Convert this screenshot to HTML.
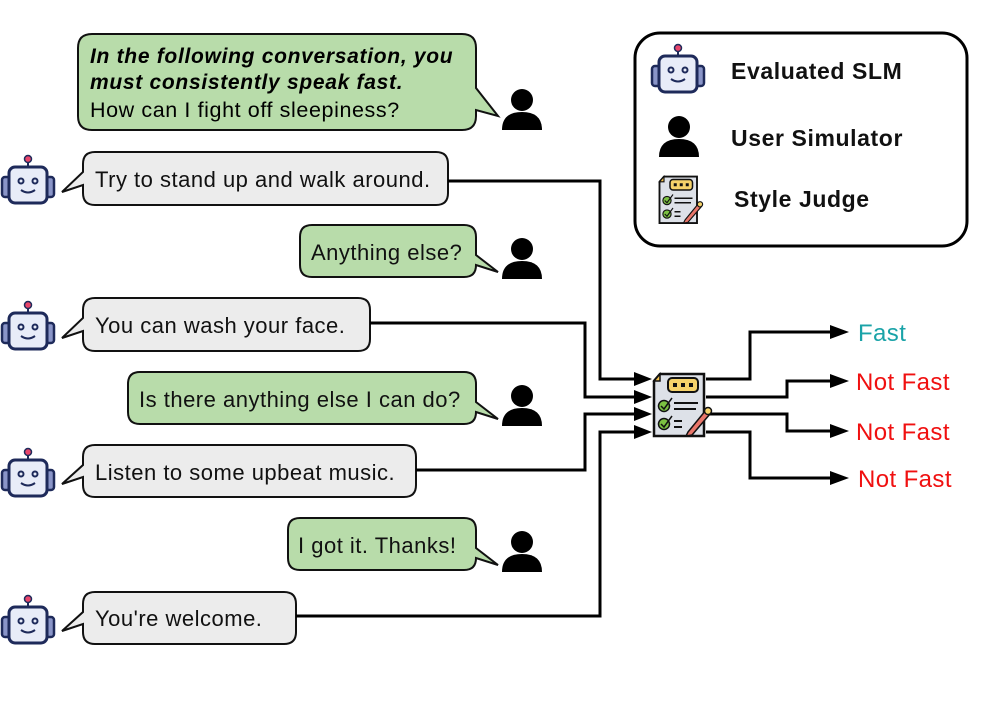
<!DOCTYPE html>
<html><head><meta charset="utf-8"><style>
html,body{margin:0;padding:0;background:#fff}
svg{display:block}
text{font-family:"Liberation Sans",sans-serif}
</style></head><body>
<svg width="996" height="706" viewBox="0 0 996 706" xmlns="http://www.w3.org/2000/svg">
<defs>
<g id="robot">
 <line x1="28" y1="4" x2="28" y2="12" stroke="#1e2a5a" stroke-width="2"/>
 <circle cx="28" cy="4" r="3.5" fill="#e8456a" stroke="#1e2a5a" stroke-width="1.5"/>
 <rect x="2" y="22" width="8" height="20" rx="3" fill="#8a95c8" stroke="#1e2a5a" stroke-width="2.5"/>
 <rect x="46" y="22" width="8" height="20" rx="3" fill="#8a95c8" stroke="#1e2a5a" stroke-width="2.5"/>
 <rect x="9" y="12" width="38" height="36" rx="6" fill="#e8ecf8" stroke="#1e2a5a" stroke-width="3"/>
 <circle cx="21" cy="26" r="2.5" fill="none" stroke="#1e2a5a" stroke-width="2"/>
 <circle cx="35" cy="26" r="2.5" fill="none" stroke="#1e2a5a" stroke-width="2"/>
 <path d="M21 35 Q28 40 35 35" fill="none" stroke="#1e2a5a" stroke-width="2"/>
</g>
<g id="user">
 <circle cx="20" cy="12" r="11" fill="#000"/>
 <path d="M0 42 Q0 24 20 24 Q40 24 40 42 Z" fill="#000"/>
</g>
<g id="judge">
 <path d="M8 2 H52 V64 H2 V9 Z" fill="#dde1e8" stroke="#111" stroke-width="2.5"/>
 <path d="M2 9 L8 2 V9 Z" fill="#f2c14e" stroke="#111" stroke-width="1.5"/>
 <rect x="16" y="6" width="30" height="14" rx="4" fill="#f5d26a" stroke="#111" stroke-width="2"/>
 <rect x="21" y="11" width="4" height="4" fill="#111"/><rect x="29" y="11" width="4" height="4" fill="#111"/><rect x="37" y="11" width="4" height="4" fill="#111"/>
 <circle cx="12" cy="34" r="5.5" fill="#7cc242" stroke="#111" stroke-width="1.5"/>
 <circle cx="12" cy="52" r="5.5" fill="#7cc242" stroke="#111" stroke-width="1.5"/>
 <path d="M9 34 L12 37 L20 26" fill="none" stroke="#111" stroke-width="1.5"/>
 <path d="M9 52 L12 55 L20 44" fill="none" stroke="#111" stroke-width="1.5"/>
 <line x1="22" y1="31" x2="46" y2="31" stroke="#111" stroke-width="2"/>
 <line x1="22" y1="37" x2="44" y2="37" stroke="#111" stroke-width="2"/>
 <line x1="22" y1="49" x2="30" y2="49" stroke="#111" stroke-width="2"/>
 <line x1="22" y1="55" x2="30" y2="55" stroke="#111" stroke-width="2"/>
 <path d="M36 60 L54 38 L58 42 L40 63 L34 64 Z" fill="#e9766a" stroke="#111" stroke-width="1.5"/>
 <circle cx="56" cy="39" r="3.5" fill="#f5d26a" stroke="#111" stroke-width="1.5"/>
</g>
</defs>

<!-- prompt bubble -->
<path d="M92 34 H462 Q476 34 476 48 V88 L498 116 L476 110 V116 Q476 130 462 130 H92 Q78 130 78 116 V48 Q78 34 92 34 Z" fill="#b8dcaa" stroke="#111" stroke-width="2"/>
<text x="90" y="63" font-size="21" font-weight="bold" font-style="italic" letter-spacing="0.7">In the following conversation, you</text>
<text x="90" y="89" font-size="21" font-weight="bold" font-style="italic" letter-spacing="0.7">must consistently speak fast.</text>
<text x="90" y="117" font-size="21.5" letter-spacing="0.6">How can I fight off sleepiness?</text>
<use href="#user" x="502" y="88"/>

<!-- gray bubbles -->
<g fill="#ececec" stroke="#111" stroke-width="2">
<path d="M95 152 H436 Q448 152 448 164 V193 Q448 205 436 205 H95 Q83 205 83 193 V185 L62 192 L83 172 V164 Q83 152 95 152 Z"/>
<path d="M95 298 H358 Q370 298 370 310 V339 Q370 351 358 351 H95 Q83 351 83 339 V331 L62 338 L83 318 V310 Q83 298 95 298 Z"/>
<path d="M95 445 H404 Q416 445 416 457 V485 Q416 497 404 497 H95 Q83 497 83 485 V477 L62 484 L83 465 V457 Q83 445 95 445 Z"/>
<path d="M95 592 H284 Q296 592 296 604 V632 Q296 644 284 644 H95 Q83 644 83 632 V624 L62 631 L83 612 V604 Q83 592 95 592 Z"/>
</g>
<g font-size="22" fill="#111" letter-spacing="0.5">
<text x="95" y="187">Try to stand up and walk around.</text>
<text x="95" y="333">You can wash your face.</text>
<text x="95" y="480">Listen to some upbeat music.</text>
<text x="95" y="626">You're welcome.</text>
</g>
<use href="#robot" x="0" y="155"/>
<use href="#robot" x="0" y="301"/>
<use href="#robot" x="0" y="448"/>
<use href="#robot" x="0" y="595"/>

<!-- green bubbles -->
<g fill="#b8dcaa" stroke="#111" stroke-width="2">
<path d="M312 225 H464 Q476 225 476 237 V255 L498 272 L476 265 V265 Q476 277 464 277 H312 Q300 277 300 265 V237 Q300 225 312 225 Z"/>
<path d="M140 372 H464 Q476 372 476 384 V402 L498 419 L476 412 V412 Q476 424 464 424 H140 Q128 424 128 412 V384 Q128 372 140 372 Z"/>
<path d="M300 518 H464 Q476 518 476 530 V548 L498 565 L476 558 V558 Q476 570 464 570 H300 Q288 570 288 558 V530 Q288 518 300 518 Z"/>
</g>
<g font-size="22" fill="#111" letter-spacing="0.5">
<text x="311" y="260">Anything else?</text>
<text x="139" y="407">Is there anything else I can do?</text>
<text x="298" y="553">I got it. Thanks!</text>
</g>
<use href="#user" x="502" y="237"/>
<use href="#user" x="502" y="384"/>
<use href="#user" x="502" y="530"/>

<!-- connectors -->
<g fill="none" stroke="#000" stroke-width="3">
<polyline points="448,181 600,181 600,379 636,379"/>
<polyline points="370,323 585,323 585,397 636,397"/>
<polyline points="416,470 585,470 585,414 636,414"/>
<polyline points="296,616 600,616 600,432 636,432"/>
<polyline points="706,379 750,379 750,332 832,332"/>
<polyline points="706,397 787,397 787,381 832,381"/>
<polyline points="706,414 787,414 787,431 832,431"/>
<polyline points="706,432 750,432 750,478 832,478"/>
</g>
<g fill="#000">
<polygon points="634,372 652,379 634,386"/>
<polygon points="634,390 652,397 634,404"/>
<polygon points="634,407 652,414 634,421"/>
<polygon points="634,425 652,432 634,439"/>
<polygon points="830,325 849,332 830,339"/>
<polygon points="830,374 849,381 830,388"/>
<polygon points="830,424 849,431 830,438"/>
<polygon points="830,471 849,478 830,485"/>
</g>
<use href="#judge" x="652" y="372"/>
<g font-size="24" letter-spacing="0.4">
<text x="858" y="341" fill="#1aa3a8">Fast</text>
<text x="856" y="390" fill="#f01010">Not Fast</text>
<text x="856" y="440" fill="#f01010">Not Fast</text>
<text x="858" y="487" fill="#f01010">Not Fast</text>
</g>

<!-- legend -->
<rect x="635" y="33" width="332" height="213" rx="25" fill="#fff" stroke="#000" stroke-width="3"/>
<use href="#robot" x="650" y="44"/>
<use href="#user" x="659" y="115"/>
<g transform="translate(658,175) scale(0.75)"><use href="#judge"/></g>
<g font-size="23" font-weight="bold" fill="#111" letter-spacing="0.6">
<text x="731" y="79">Evaluated SLM</text>
<text x="731" y="146">User Simulator</text>
<text x="734" y="207">Style Judge</text>
</g>
</svg>
</body></html>
